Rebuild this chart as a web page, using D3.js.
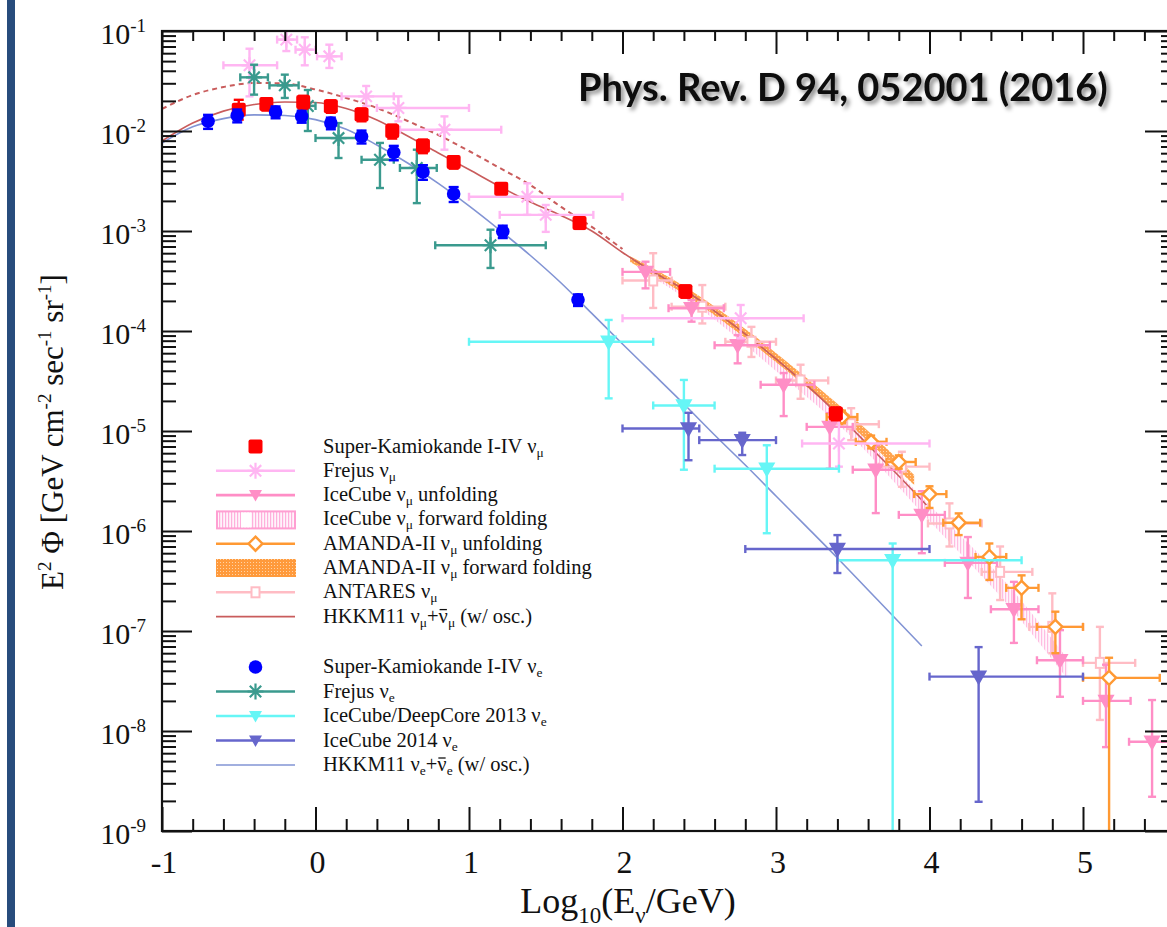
<!DOCTYPE html>
<html>
<head>
<meta charset="utf-8">
<script src="https://cdn.jsdelivr.net/npm/d3@7"></script>
<style>
  body { margin: 0; background: #fff; }
  svg text { font-family: "Liberation Serif", "Times New Roman", serif; fill: #111; }
</style>
</head>
<body>
<div id="chart"></div>
<script>
// ---- data: [log10 E, flux, flux low, flux high]
const skMuon = [
    [-0.50, 1.63e-2, 1.30e-2, 2.05e-2], [-0.32, 1.86e-2, 1.60e-2, 2.12e-2],
    [-0.08, 1.95e-2, 1.66e-2, 2.25e-2], [0.10, 1.77e-2, 1.52e-2, 2.02e-2],
    [0.30, 1.46e-2, 1.25e-2, 1.68e-2], [0.50, 1.00e-2, 0.84e-2, 1.16e-2],
    [0.70, 7.1e-3, 6.0e-3, 8.2e-3], [0.90, 4.9e-3, 4.2e-3, 5.6e-3],
    [1.21, 2.65e-3, 2.35e-3, 2.95e-3], [1.72, 1.20e-3, 1.05e-3, 1.35e-3],
    [2.41, 2.50e-4, 2.15e-4, 2.85e-4], [3.39, 1.50e-5, 1.28e-5, 1.72e-5]
];
const skElec = [
    [-0.70, 1.25e-2, 1.05e-2, 1.45e-2], [-0.51, 1.43e-2, 1.22e-2, 1.64e-2],
    [-0.26, 1.55e-2, 1.34e-2, 1.76e-2], [-0.09, 1.40e-2, 1.21e-2, 1.59e-2],
    [0.10, 1.20e-2, 1.04e-2, 1.36e-2], [0.30, 8.8e-3, 7.5e-3, 1.01e-2],
    [0.51, 6.1e-3, 5.1e-3, 7.1e-3], [0.70, 3.9e-3, 3.25e-3, 4.55e-3],
    [0.90, 2.35e-3, 1.95e-3, 2.75e-3], [1.22, 9.9e-4, 8.5e-4, 1.13e-3],
    [1.71, 2.05e-4, 1.78e-4, 2.32e-4]
];

// [log10 E, flux, log10 E low, log10 E high, flux low, flux high]
const frejusMu = [
    [-0.43, 4.54e-2, -0.60, -0.25, 2.22e-2, 6.65e-2], [-0.19, 8.2e-2, -0.25, -0.12, 6.3e-2, 1.1e-1],
    [-0.07, 6.5e-2, -0.13, 0.00, 4.54e-2, 8.65e-2], [0.09, 5.58e-2, 0.01, 0.17, 4.27e-2, 7.3e-2],
    [0.33, 2.22e-2, 0.17, 0.51, 1.78e-2, 2.82e-2], [0.54, 1.70e-2, 0.40, 1.00, 1.25e-2, 2.22e-2],
    [0.84, 1.03e-2, 0.55, 1.21, 6.5e-3, 1.40e-2], [1.38, 2.2e-3, 1.00, 2.00, 1.45e-3, 3.0e-3],
    [1.50, 1.45e-3, 1.20, 1.81, 9.8e-4, 1.82e-3], [2.77, 1.34e-4, 2.00, 3.18, 8.45e-5, 1.82e-4],
    [3.41, 7.5e-6, 3.17, 4.00, 4.4e-6, 1.34e-5]
];
const frejusE = [
    [-0.40, 3.44e-2, -0.49, -0.31, 2.31e-2, 4.6e-2], [-0.20, 2.86e-2, -0.30, -0.11, 2.14e-2, 3.66e-2],
    [-0.05, 1.78e-2, -0.11, 0.00, 1.0e-2, 2.57e-2], [0.15, 8.5e-3, 0.00, 0.29, 5.37e-3, 1.2e-2],
    [0.42, 5.16e-3, 0.30, 0.51, 2.69e-3, 7.6e-3], [0.66, 4.27e-3, 0.55, 0.79, 1.9e-3, 6.5e-3],
    [1.14, 7.2e-4, 0.78, 1.50, 4.27e-4, 1.03e-3]
];
const icMuUnfold = [
    [2.15, 3.9e-4, 2.00, 2.31, 2.67e-4, 4.93e-4], [2.45, 1.69e-4, 2.30, 2.66, 1.24e-4, 2.04e-4],
    [2.75, 7.2e-5, 2.60, 2.96, 4.75e-5, 9.1e-5], [3.05, 2.9e-5, 2.90, 3.25, 1.41e-5, 3.8e-5],
    [3.35, 1.1e-5, 3.20, 3.50, 4.2e-6, 1.51e-5], [3.65, 4.1e-6, 3.50, 3.81, 1.51e-6, 7.2e-6],
    [3.95, 1.45e-6, 3.80, 4.10, 6.0e-7, 2.5e-6], [4.25, 4.8e-7, 4.10, 4.44, 2.14e-7, 8.7e-7],
    [4.55, 1.65e-7, 4.40, 4.71, 7.6e-8, 3.1e-7], [4.85, 5.1e-8, 4.70, 5.00, 2.2e-8, 1.02e-7],
    [5.15, 2.0e-8, 5.00, 5.31, 6.9e-9, 4.6e-8], [5.45, 7.8e-9, 5.30, 5.60, 2.2e-9, 2.04e-8]
];
const antares = [
    [2.20, 3.2e-4, 2.00, 2.32, 1.7e-4, 6.0e-4], [2.52, 1.75e-4, 2.32, 2.67, 1.19e-4, 2.88e-4],
    [2.84, 7.8e-5, 2.67, 3.00, 5.5e-5, 1.1e-4], [3.16, 3.2e-5, 3.00, 3.34, 2.1e-5, 4.6e-5],
    [3.49, 1.17e-5, 3.33, 3.67, 8.1e-6, 1.69e-5], [3.82, 4.4e-6, 3.67, 4.00, 2.77e-6, 6.2e-6],
    [4.13, 1.19e-6, 3.99, 4.34, 7.0e-7, 1.89e-6], [4.46, 3.9e-7, 4.34, 4.67, 2.04e-7, 7.0e-7],
    [4.80, 1.1e-7, 4.65, 5.00, 6.0e-8, 2.38e-7], [5.11, 4.8e-8, 5.00, 5.34, 1.29e-8, 1.1e-7]
];
const amandaUnfold = [
    [3.43, 1.38e-5, 3.33, 3.53, 1.2e-5, 1.6e-5], [3.62, 7.8e-6, 3.52, 3.72, 6.7e-6, 9.0e-6],
    [3.80, 4.9e-6, 3.72, 3.91, 4.2e-6, 5.7e-6], [4.00, 2.34e-6, 3.90, 4.11, 1.70e-6, 2.8e-6],
    [4.19, 1.21e-6, 4.09, 4.33, 9.1e-7, 1.5e-6], [4.39, 5.5e-7, 4.30, 4.50, 3.24e-7, 7.5e-7],
    [4.60, 2.7e-7, 4.50, 4.71, 1.31e-7, 3.6e-7], [4.82, 1.1e-7, 4.70, 5.00, 6.0e-8, 1.56e-7],
    [5.17, 3.4e-8, 5.00, 5.50, 1e-10, 5.4e-8]
];
const deepCore = [
    [1.91, 7.8e-5, 1.00, 2.20, 2.12e-5, 1.29e-4], [2.40, 1.8e-5, 2.20, 2.60, 4.1e-6, 3.24e-5],
    [2.94, 4.2e-6, 2.60, 3.41, 9.5e-7, 7.2e-6], [3.76, 5.1e-7, 3.40, 4.60, 1e-10, 7.5e-7]
];
const ic2014 = [
    [2.43, 1.06e-5, 2.00, 2.50, 5.1e-6, 1.52e-5], [2.78, 8.1e-6, 2.50, 3.00, 5.75e-6, 9.6e-6],
    [3.40, 6.6e-7, 2.80, 4.00, 3.8e-7, 9.1e-7], [4.32, 3.5e-8, 4.00, 5.00, 1.96e-9, 6.9e-8]
];

// forward folding bands: [log10 E, flux low, flux high]
const icMuBand = [
    [2.1, 4.27e-4, 5.01e-4], [2.5, 1.70e-4, 2.09e-4], [3.0, 3.98e-5, 5.01e-5],
    [3.5, 8.5e-6, 1.12e-5], [4.0, 1.26e-6, 1.82e-6], [4.5, 1.91e-7, 3.02e-7], [4.9, 3.31e-8, 5.25e-8]
];
const amandaBand = [
    [2.05, 4.9e-4, 5.6e-4], [2.4, 2.34e-4, 2.82e-4], [2.8, 8.5e-5, 1.05e-4],
    [3.2, 2.75e-5, 3.39e-5], [3.6, 7.9e-6, 1.0e-5], [3.9, 2.88e-6, 3.63e-6]
];

// HKKM11 model curves: [log10 E, flux]
const hkkmMu = [
    [-1.0, 7.94e-3], [-0.8, 1.20e-2], [-0.6, 1.58e-2], [-0.4, 1.84e-2], [-0.2, 1.95e-2],
    [0.0, 1.93e-2], [0.2, 1.68e-2], [0.4, 1.29e-2], [0.6, 8.91e-3], [0.8, 6.03e-3],
    [1.0, 4.12e-3], [1.2, 2.79e-3], [1.4, 1.95e-3], [1.6, 1.43e-3], [1.8, 1.0e-3],
    [2.0, 6.10e-4], [2.2, 3.89e-4], [2.4, 2.60e-4], [2.6, 1.58e-4], [2.8, 9.33e-5],
    [3.0, 5.25e-5], [3.2, 2.88e-5], [3.4, 1.48e-5], [3.6, 7.24e-6], [3.8, 3.55e-6], [3.98, 1.82e-6]
];
const hkkmMuNoOsc = [
    [-1.0, 1.66e-2], [-0.8, 2.29e-2], [-0.6, 2.75e-2], [-0.4, 3.02e-2], [-0.2, 2.99e-2],
    [0.0, 2.60e-2], [0.2, 2.14e-2], [0.4, 1.70e-2], [0.6, 1.26e-2], [0.8, 9.12e-3],
    [1.0, 6.31e-3], [1.2, 4.27e-3], [1.4, 2.88e-3], [1.6, 1.74e-3], [1.8, 1.10e-3], [2.0, 6.61e-4]
];
const hkkmE = [
    [-1.0, 7.59e-3], [-0.8, 1.10e-2], [-0.6, 1.33e-2], [-0.4, 1.45e-2], [-0.2, 1.43e-2],
    [0.0, 1.30e-2], [0.2, 1.04e-2], [0.4, 7.24e-3], [0.6, 4.79e-3], [0.8, 2.99e-3],
    [1.0, 1.78e-3], [1.2, 1.02e-3], [1.4, 5.69e-4], [1.6, 3.02e-4], [1.8, 1.50e-4],
    [2.0, 7.41e-5], [2.2, 3.72e-5], [2.4, 1.86e-5], [2.6, 9.12e-6], [2.8, 4.57e-6],
    [3.0, 2.24e-6], [3.2, 1.10e-6], [3.4, 5.37e-7], [3.6, 2.57e-7], [3.8, 1.23e-7], [3.95, 7.08e-8]
];

const xTicks = [-1, 0, 1, 2, 3, 4, 5];
const yExponents = [-1, -2, -3, -4, -5, -6, -7, -8, -9];

const legendMu = [
    [["Super-Kamiokande I-IV ν", ""], ["μ", "sub"]],
    [["Frejus ν", ""], ["μ", "sub"]],
    [["IceCube ν", ""], ["μ", "sub"], [" unfolding", ""]],
    [["IceCube ν", ""], ["μ", "sub"], [" forward folding", ""]],
    [["AMANDA-II ν", ""], ["μ", "sub"], [" unfolding", ""]],
    [["AMANDA-II ν", ""], ["μ", "sub"], [" forward folding", ""]],
    [["ANTARES ν", ""], ["μ", "sub"]],
    [["HKKM11 ν", ""], ["μ", "sub"], ["+", ""], ["ν", "bar"], ["μ", "sub"], [" (w/ osc.)", ""]]
];
const legendE = [
    [["Super-Kamiokande I-IV ν", ""], ["e", "sub"]],
    [["Frejus ν", ""], ["e", "sub"]],
    [["IceCube/DeepCore 2013 ν", ""], ["e", "sub"]],
    [["IceCube 2014 ν", ""], ["e", "sub"]],
    [["HKKM11 ν", ""], ["e", "sub"], ["+", ""], ["ν", "bar"], ["e", "sub"], [" (w/ osc.)", ""]]
];

// ---- layout
const width = 1167, height = 927;
const x = d3.scaleLinear().domain([-1, 5.6]).range([162, 1175.1]);
const y = d3.scaleLog().domain([1e-9, 1e-1]).range([831, 31]);

const C = {
    skMu: "#ff0000", skE: "#0000ff", frejusMu: "#ffb6f2", frejusE: "#3a9a8e",
    icMu: "#ff8ec6", antares: "#ffbcc4", amanda: "#ff9933", deep: "#66f6f6",
    ic14: "#6666cc", hkMu: "#c95c5c", hkE: "#8294d4"
};

const svg = d3.select("#chart").append("svg")
    .attr("width", width)
    .attr("height", height);

const defs = svg.append("defs");
defs.append("clipPath").attr("id", "plotClip")
    .append("rect").attr("x", 162).attr("y", 31).attr("width", 1013).attr("height", 800);
const pinkPat = defs.append("pattern").attr("id", "pinkHatch")
    .attr("width", 3).attr("height", 3).attr("patternUnits", "userSpaceOnUse");
pinkPat.append("rect").attr("width", 3).attr("height", 3).attr("fill", "#fff4fb");
pinkPat.append("rect").attr("width", 1.2).attr("height", 3).attr("fill", "#ffb0dc");
const orangePat = defs.append("pattern").attr("id", "orangeDots")
    .attr("width", 3).attr("height", 3).attr("patternUnits", "userSpaceOnUse");
orangePat.append("rect").attr("width", 3).attr("height", 3).attr("fill", "#ff9a3c");
orangePat.append("rect").attr("x", 1).attr("y", 1).attr("width", 1).attr("height", 1).attr("fill", "#ffd3a6");
const shadow = defs.append("filter").attr("id", "shadow")
    .attr("x", "-5%").attr("y", "-30%").attr("width", "115%").attr("height", "170%");
shadow.append("feDropShadow").attr("dx", 3).attr("dy", 3).attr("stdDeviation", 2)
    .attr("flood-color", "#000").attr("flood-opacity", 0.45);

// slide border on the left
svg.append("rect").attr("x", 7).attr("y", 0).attr("width", 8).attr("height", height).attr("fill", "#284c7c");

const plot = svg.append("g").attr("clip-path", "url(#plotClip)");

// bands
const band = d3.area().x(d => x(d[0])).y0(d => y(d[1])).y1(d => y(d[2])).curve(d3.curveMonotoneX);
plot.append("path").datum(icMuBand).attr("d", band).attr("fill", "url(#pinkHatch)").attr("opacity", 0.85);
plot.append("path").datum(amandaBand).attr("d", band).attr("fill", "url(#orangeDots)").attr("opacity", 0.9);

// model curves
const curve = d3.line().x(d => x(d[0])).y(d => y(d[1])).curve(d3.curveMonotoneX);
plot.append("path").datum(hkkmMuNoOsc).attr("d", curve).attr("fill", "none")
    .attr("stroke", C.hkMu).attr("stroke-width", 2).attr("stroke-dasharray", "5,4");
plot.append("path").datum(hkkmMu).attr("d", curve).attr("fill", "none")
    .attr("stroke", C.hkMu).attr("stroke-width", 1.6);
plot.append("path").datum(hkkmE).attr("d", curve).attr("fill", "none")
    .attr("stroke", C.hkE).attr("stroke-width", 1.6);

// marker shapes
function addMarker(g, type, cx, cy, color) {
    if (type === "star") {
        const r = 8, a = 5.7;
        g.append("path")
            .attr("d", `M${cx - r},${cy}H${cx + r}M${cx},${cy - r}V${cy + r}M${cx - a},${cy - a}L${cx + a},${cy + a}M${cx - a},${cy + a}L${cx + a},${cy - a}`)
            .attr("stroke", color).attr("stroke-width", 2.2).attr("fill", "none");
    } else if (type === "tri") {
        g.append("path").attr("d", `M${cx - 6.5},${cy - 5}H${cx + 6.5}L${cx},${cy + 6.5}Z`).attr("fill", color);
    } else if (type === "diamond") {
        g.append("path").attr("d", `M${cx},${cy - 7}L${cx + 7},${cy}L${cx},${cy + 7}L${cx - 7},${cy}Z`)
            .attr("fill", "#fff").attr("stroke", color).attr("stroke-width", 2.4);
    } else if (type === "box") {
        g.append("rect").attr("x", cx - 4).attr("y", cy - 5).attr("width", 8).attr("height", 10)
            .attr("fill", "#fff").attr("stroke", color).attr("stroke-width", 2);
    } else if (type === "square") {
        g.append("rect").attr("x", cx - 7).attr("y", cy - 7).attr("width", 14).attr("height", 14)
            .attr("rx", 2).attr("fill", color);
    } else if (type === "circle") {
        g.append("circle").attr("cx", cx).attr("cy", cy).attr("r", 6.8).attr("fill", color);
    }
}

function errorSeries(rows, color, type, cap) {
    const g = plot.append("g").attr("stroke", color).attr("stroke-width", 2.4);
    rows.forEach(r => {
        const cx = x(r[0]), cy = y(r[1]);
        const x0 = x(r[2]), x1 = x(r[3]), y0 = y(r[4]), y1 = y(r[5]);
        g.append("line").attr("x1", x0).attr("x2", x1).attr("y1", cy).attr("y2", cy);
        g.append("line").attr("x1", x0).attr("x2", x0).attr("y1", cy - cap).attr("y2", cy + cap);
        g.append("line").attr("x1", x1).attr("x2", x1).attr("y1", cy - cap).attr("y2", cy + cap);
        g.append("line").attr("x1", cx).attr("x2", cx).attr("y1", y0).attr("y2", y1);
        g.append("line").attr("x1", cx - cap).attr("x2", cx + cap).attr("y1", y0).attr("y2", y0);
        g.append("line").attr("x1", cx - cap).attr("x2", cx + cap).attr("y1", y1).attr("y2", y1);
        addMarker(g, type, cx, cy, color);
    });
}

function skSeries(rows, color, type) {
    const g = plot.append("g").attr("stroke", color).attr("stroke-width", 2.4);
    rows.forEach(r => {
        const cx = x(r[0]), cy = y(r[1]), y0 = y(r[2]), y1 = y(r[3]);
        g.append("line").attr("x1", cx).attr("x2", cx).attr("y1", y0).attr("y2", y1);
        g.append("line").attr("x1", cx - 5).attr("x2", cx + 5).attr("y1", y0).attr("y2", y0);
        g.append("line").attr("x1", cx - 5).attr("x2", cx + 5).attr("y1", y1).attr("y2", y1);
        addMarker(g.append("g").attr("stroke", "none"), type, cx, cy, color);
    });
}

errorSeries(antares, C.antares, "box", 4);
errorSeries(icMuUnfold, C.icMu, "tri", 4);
errorSeries(amandaUnfold, C.amanda, "diamond", 4);
errorSeries(frejusMu, C.frejusMu, "star", 4);
errorSeries(frejusE, C.frejusE, "star", 4);
errorSeries(deepCore, C.deep, "tri", 4);
errorSeries(ic2014, C.ic14, "tri", 4);
skSeries(skMuon, C.skMu, "square");
skSeries(skElec, C.skE, "circle");

// ---- axes
const majorX = xTicks;
const minorX = d3.range(-1, 5.61, 0.2).map(v => +v.toFixed(1)).filter(v => !Number.isInteger(v));
const majorY = yExponents.map(e => Math.pow(10, e));
const minorY = [];
d3.range(-9, -1).forEach(e => d3.range(2, 10).forEach(m => minorY.push(m * Math.pow(10, e))));

function tickAxis(axis, ticks, size, tx, ty) {
    const g = svg.append("g").attr("transform", `translate(${tx},${ty})`)
        .call(axis.tickValues(ticks).tickSize(size).tickSizeOuter(0).tickFormat(""));
    g.select(".domain").remove();
    g.selectAll(".tick line").attr("stroke", "#111").attr("stroke-width", 2);
}
tickAxis(d3.axisBottom(x), majorX, -24, 0, 831);
tickAxis(d3.axisBottom(x), minorX, -12, 0, 831);
tickAxis(d3.axisTop(x), majorX, -23, 0, 31);
tickAxis(d3.axisTop(x), minorX, -10, 0, 31);
tickAxis(d3.axisLeft(y), majorY, -30, 162, 0);
tickAxis(d3.axisLeft(y), minorY, -14, 162, 0);
tickAxis(d3.axisRight(y), majorY, -30, 1175, 0);
tickAxis(d3.axisRight(y), minorY, -14, 1175, 0);

svg.append("rect").attr("x", 162).attr("y", 31).attr("width", 1013).attr("height", 800)
    .attr("fill", "none").attr("stroke", "#111").attr("stroke-width", 2.2);

// tick labels
svg.append("g").selectAll("text").data(majorX).enter().append("text")
    .attr("x", d => x(d) + 2)
    .attr("y", 873)
    .attr("text-anchor", "middle")
    .attr("font-size", 32)
    .text(d => d);

const yLab = svg.append("g").selectAll("text").data(yExponents).enter().append("text")
    .attr("x", 146)
    .attr("y", d => y(Math.pow(10, d)) + 13)
    .attr("text-anchor", "end")
    .attr("font-size", 30);
yLab.append("tspan").text("10");
yLab.append("tspan").attr("dy", -12).attr("font-size", 19).text(d => d);

// axis titles
const xt = svg.append("text").attr("x", 628).attr("y", 913).attr("text-anchor", "middle").attr("font-size", 36);
xt.append("tspan").text("Log");
xt.append("tspan").attr("dy", 10).attr("font-size", 23).text("10");
xt.append("tspan").attr("dy", -10).text("(E");
xt.append("tspan").attr("dy", 10).attr("font-size", 23).text("ν");
xt.append("tspan").attr("dy", -10).text("/GeV)");

const yt = svg.append("text").attr("transform", "translate(63,432) rotate(-90)")
    .attr("text-anchor", "middle").attr("font-size", 31);
yt.append("tspan").text("E");
yt.append("tspan").attr("dy", -12).attr("font-size", 19).text("2");
yt.append("tspan").attr("dy", 12).text(" Φ [GeV cm");
yt.append("tspan").attr("dy", -12).attr("font-size", 19).text("-2");
yt.append("tspan").attr("dy", 12).text(" sec");
yt.append("tspan").attr("dy", -12).attr("font-size", 19).text("-1");
yt.append("tspan").attr("dy", 12).text(" sr");
yt.append("tspan").attr("dy", -12).attr("font-size", 19).text("-1");
yt.append("tspan").attr("dy", 12).text("]");

// reference note
svg.append("text").attr("x", 578).attr("y", 101)
    .style("font-family", "Lato, 'Open Sans', sans-serif")
    .attr("font-weight", 700).attr("font-size", 38)
    .attr("filter", "url(#shadow)")
    .text("Phys. Rev. D 94, 052001 (2016)");

// ---- legend
const legend = svg.append("g").attr("id", "legend");
function legendText(parts, ty) {
    const t = legend.append("text").attr("x", 323).attr("y", ty).attr("font-size", 20.5);
    let low = false, pos = 0, barAt = -1;
    parts.forEach(p => {
        const s = t.append("tspan").text(p[0]);
        if (p[1] === "sub") { s.attr("dy", low ? 0 : 4).attr("font-size", 13.5); low = true; }
        else { if (low) s.attr("dy", -4); low = false; }
        if (p[1] === "bar") barAt = pos;
        pos += p[0].length;
    });
    if (barAt >= 0) {
        const ext = t.node().getExtentOfChar(barAt);
        legend.append("line")
            .attr("x1", ext.x + 1).attr("x2", ext.x + ext.width - 1)
            .attr("y1", ty - 13).attr("y2", ty - 13)
            .attr("stroke", "#111").attr("stroke-width", 1.3);
    }
}
const muKeys = [
    { type: "square", color: C.skMu, line: false },
    { type: "star", color: C.frejusMu, line: true },
    { type: "tri", color: C.icMu, line: true },
    { type: "pinkbox" },
    { type: "diamond", color: C.amanda, line: true },
    { type: "orangebox" },
    { type: "box", color: C.antares, line: true },
    { type: "model", color: C.hkMu }
];
const eKeys = [
    { type: "circle", color: C.skE, line: false },
    { type: "star", color: C.frejusE, line: true },
    { type: "tri", color: C.deep, line: true },
    { type: "tri", color: C.ic14, line: true },
    { type: "model", color: C.hkE }
];
function legendKey(k, cy) {
    const g = legend.append("g");
    if (k.type === "pinkbox") {
        g.append("rect").attr("x", 217).attr("y", cy - 8).attr("width", 78).attr("height", 17)
            .attr("fill", "url(#pinkHatch)").attr("stroke", "#ff9fd2").attr("stroke-width", 2);
        g.append("rect").attr("x", 241).attr("y", cy - 7).attr("width", 10).attr("height", 15).attr("fill", "#fff");
    } else if (k.type === "orangebox") {
        g.append("rect").attr("x", 216).attr("y", cy - 9).attr("width", 80).attr("height", 18)
            .attr("fill", "url(#orangeDots)");
    } else if (k.type === "model") {
        g.append("line").attr("x1", 216).attr("x2", 295).attr("y1", cy).attr("y2", cy)
            .attr("stroke", k.color).attr("stroke-width", 1.6);
    } else {
        if (k.line) g.append("line").attr("x1", 216).attr("x2", 295).attr("y1", cy).attr("y2", cy)
            .attr("stroke", k.color).attr("stroke-width", 2.6);
        addMarker(g, k.type, 255.5, cy, k.color);
    }
}
legendMu.forEach((parts, i) => {
    const cy = 446.5 + i * 24.3;
    legendKey(muKeys[i], cy);
    legendText(parts, cy + 6);
});
legendE.forEach((parts, i) => {
    const cy = 667 + i * 24.5;
    legendKey(eKeys[i], cy);
    legendText(parts, cy + 6);
});
</script>
</body>
</html>
